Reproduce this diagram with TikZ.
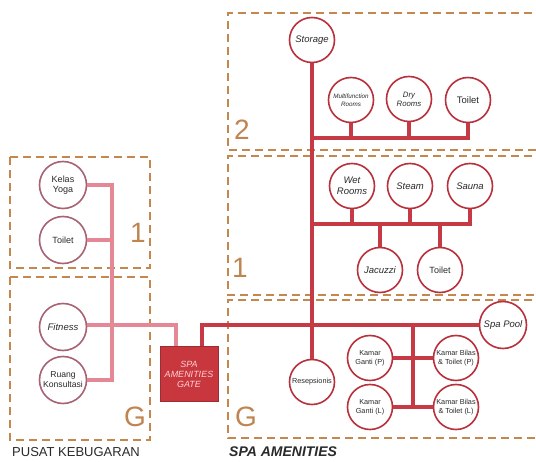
\documentclass[tikz,border=0pt]{standalone}
\usepackage{fontspec}
\setmainfont{Liberation Sans}
\definecolor{roomred}{HTML}{B8303C}
\definecolor{linered}{HTML}{C63A46}
\definecolor{pinkline}{HTML}{E48896}
\definecolor{mauve}{HTML}{A86272}
\definecolor{dashc}{HTML}{C4884E}
\definecolor{labc}{HTML}{C0844E}
\definecolor{gatec}{HTML}{C8363E}
\definecolor{txt}{HTML}{2A2A2A}
\begin{document}
\begin{tikzpicture}[x=1pt,y=-1pt,
  room/.style={circle,draw=roomred,line width=1.6pt,fill=white,minimum size=45pt,inner sep=0pt,align=center,text=txt,font=\fontsize{9}{10}\selectfont},
  lroom/.style={room,draw=mauve,minimum size=47pt},
  it/.style={font=\fontsize{9.5}{10.5}\selectfont\itshape},
  sm/.style={font=\fontsize{7.3}{8.5}\selectfont},
  redl/.style={line width=3.4pt,draw=linered},
  pinkl/.style={line width=3.4pt,draw=pinkline},
  floorbox/.style={draw=dashc,line width=2.2pt,dash pattern=on 8pt off 5pt},
  flab/.style={text=labc,font=\fontsize{28}{28}\selectfont,inner sep=0pt}]
\useasboundingbox (0,0) rectangle (536,462);
\fill[white] (0,0) rectangle (536,462);
% floor boxes
\draw[floorbox] (10,157) rectangle (150,268);
\draw[floorbox] (10,277) rectangle (150,440);
\draw[floorbox] (545,13) -- (228,13) -- (228,150) -- (545,150);
\draw[floorbox] (545,156) -- (228,156) -- (228,295) -- (545,295);
\draw[floorbox] (545,300) -- (228,300) -- (228,438) -- (545,438);
\node[flab] (l1a) at (138,233) {1};
\node[flab] (lga) at (135,417) {G};
\node[flab] (l2b) at (242,130) {2};
\node[flab] (l1b) at (240,268) {1};
\node[flab] (lgb) at (246,417) {G};
\node[font=\fontsize{13}{14}\selectfont,text=txt,anchor=west,inner sep=0pt] (pk) at (12,452) {PUSAT KEBUGARAN};
\node[font=\fontsize{14}{15}\selectfont\bfseries\itshape,text=txt,anchor=west,inner sep=0pt] (sa) at (229,452) {SPA AMENITIES};
% left rooms
\node[lroom] (yoga) at (63,185) {Kelas\\Yoga};
\node[lroom] (toil1) at (63,240) {Toilet};
\node[lroom,it] (fit) at (63,327) {Fitness};
\node[lroom,font=\fontsize{8.6}{10}\selectfont] (ruang) at (63,380) {Ruang\\Konsultasi};
% gate
\node[fill=gatec,draw=gatec!80!black,line width=0.4pt,minimum width=58pt,minimum height=55pt,inner sep=0pt,align=center,text=pink!70!white,font=\fontsize{9}{10}\selectfont\itshape] (gate) at (189,374) {SPA\\AMENITIES\\GATE};
% right rooms
\node[room,it] (stor) at (312,40) {Storage};
\node[room,font=\fontsize{6.3}{8}\selectfont\itshape] (mf) at (351,100) {Multifunction\\Rooms};
\node[room,font=\fontsize{7.8}{9}\selectfont\itshape] (dry) at (409,99) {Dry\\Rooms};
\node[room,font=\fontsize{9.5}{10}\selectfont] (toil2) at (468,100) {Toilet};
\node[room,it] (wet) at (352,186) {Wet\\Rooms};
\node[room,it] (steam) at (410,186) {Steam};
\node[room,it] (sauna) at (470,186) {Sauna};
\node[room,it] (jac) at (380,270) {Jacuzzi};
\node[room] (toil3) at (440,270) {Toilet};
\node[room,it,minimum size=47pt] (pool) at (503,325) {Spa Pool};
\node[room,sm] (resep) at (312,382) {Resepsionis};
\node[room,sm] (gp) at (370,358) {Kamar\\Ganti (P)};
\node[room,sm] (bp) at (456,358) {Kamar Bilas\\\& Toilet (P)};
\node[room,sm] (gl) at (370,407) {Kamar\\Ganti (L)};
\node[room,sm] (bl) at (456,407) {Kamar Bilas\\\& Toilet (L)};
% pink connectors
\coordinate (pv) at (112,0);
\coordinate (pg) at (176,325);
\draw[pinkl] (yoga.east) -- (yoga.east -| pv) -- (ruang.east -| pv) -- (ruang.east);
\draw[pinkl] (toil1.east) -- (toil1.east -| pv);
\draw[pinkl] (fit.east |- pg) -- (pg) -- (pg |- gate.north);
% red connectors
\coordinate (g1) at (202,325);
\coordinate (h2) at (312,138);
\coordinate (h1) at (312,224);
\coordinate (kv) at (413,325);
\draw[redl] (stor.south) -- (resep.north);
\draw[redl] (gate.north -| g1) -- (g1) -- (pool.west);
\draw[redl] (h2) -- (h2 -| toil2.south) -- (toil2.south);
\draw[redl] (mf.south) -- (mf.south |- h2);
\draw[redl] (dry.south) -- (dry.south |- h2);
\draw[redl] (h1) -- (h1 -| sauna.south) -- (sauna.south);
\draw[redl] (wet.south) -- (wet.south |- h1);
\draw[redl] (steam.south) -- (steam.south |- h1);
\draw[redl] (jac.north) -- (jac.north |- h1);
\draw[redl] (toil3.north) -- (toil3.north |- h1);
\draw[redl] (kv) -- (kv |- gl.east);
\draw[redl] (gp.east) -- (bp.west);
\draw[redl] (gl.east) -- (bl.west);
\end{tikzpicture}
\end{document}
